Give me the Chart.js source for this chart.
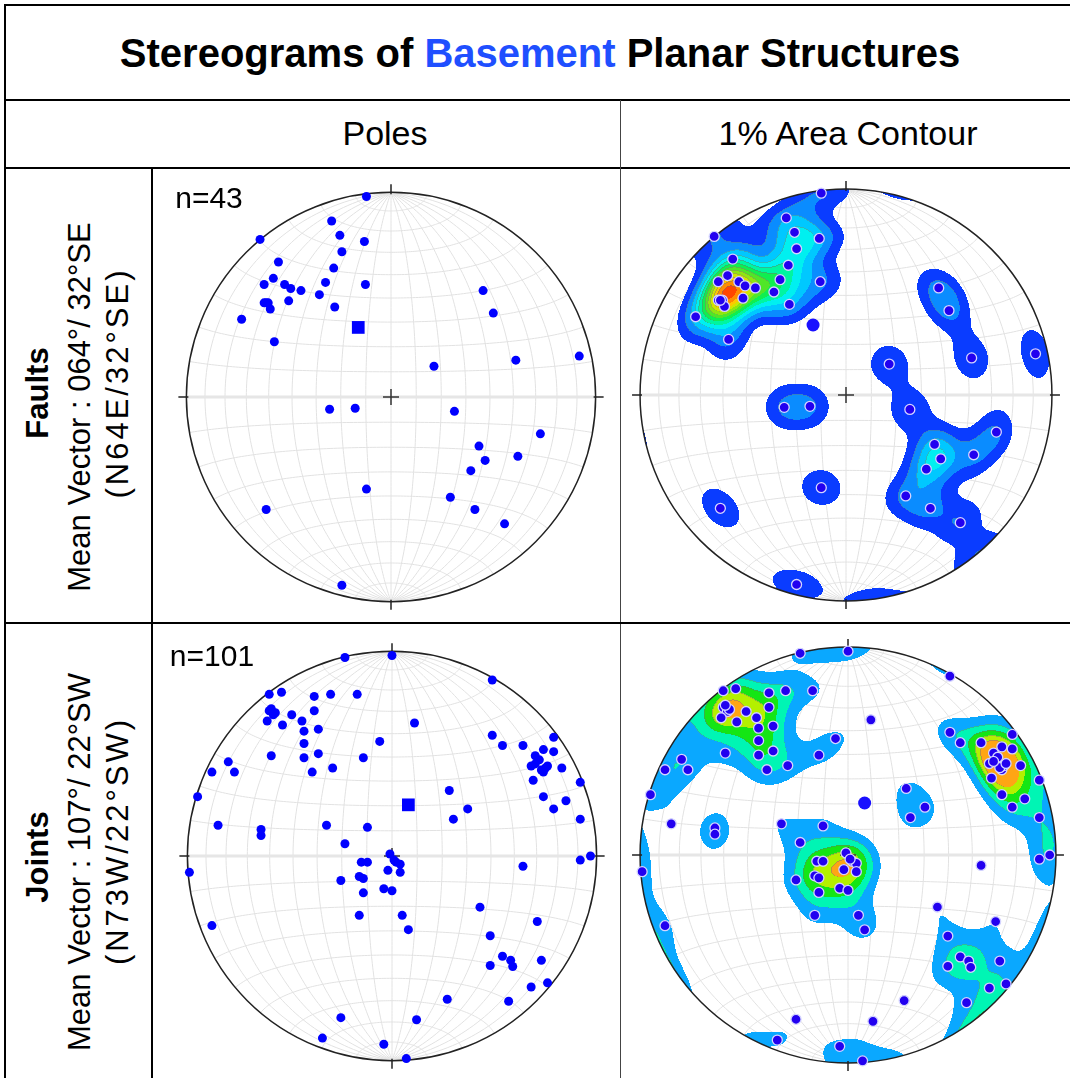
<!DOCTYPE html>
<html>
<head>
<meta charset="utf-8">
<script src="https://cdn.jsdelivr.net/npm/chart.js@4.4.0/dist/chart.umd.min.js"></script>
<style>
  html, body { margin: 0; padding: 0; background: #fff; }
  body { width: 1070px; height: 1078px; overflow: hidden; position: relative; font-family: "Liberation Sans", Arial, sans-serif; color: #000; }
  .line { position: absolute; background: #000; z-index: 3; }
  .c { position: absolute; transform: translate(-50%, -50%); white-space: nowrap; z-index: 4; }
  .v { position: absolute; transform: translate(-50%, -50%) rotate(-90deg); white-space: nowrap; z-index: 4; }
  canvas { position: absolute; z-index: 1; }
</style>
</head>
<body>
<div class="line" style="left:4px;top:4px;width:1066px;height:2px"></div>
<div class="line" style="left:4px;top:4px;width:2px;height:1074px"></div>
<div class="line" style="left:4px;top:99px;width:1066px;height:2px"></div>
<div class="line" style="left:4px;top:167px;width:1066px;height:2px"></div>
<div class="line" style="left:151px;top:167px;width:2px;height:911px"></div>
<div class="line" style="left:620px;top:100px;width:1px;height:978px;background:#444"></div>
<div class="line" style="left:4px;top:622px;width:1066px;height:2px"></div>

<div class="c" style="left:540px;top:53px;font-size:40px;font-weight:bold">Stereograms of <span style="color:#1f4fff">Basement</span> Planar Structures</div>
<div class="c" style="left:385px;top:133px;font-size:34px">Poles</div>
<div class="c" style="left:848px;top:133px;font-size:34px">1% Area Contour</div>

<div class="v" style="left:38px;top:393px;font-size:31px;font-weight:bold">Faults</div>
<div class="v" style="left:80px;top:407px;font-size:31px">Mean Vector : 064°/ 32°SE</div>
<div class="v" style="left:118px;top:383px;font-size:31px;letter-spacing:3px">(N64E/32°SE)</div>
<div class="v" style="left:38px;top:857px;font-size:31px;font-weight:bold">Joints</div>
<div class="v" style="left:80px;top:862px;font-size:31px">Mean Vector : 107°/ 22°SW</div>
<div class="v" style="left:118px;top:841px;font-size:31px;letter-spacing:3px">(N73W/22°SW)</div>

<div class="c" style="left:209px;top:198px;font-size:30px">n=43</div>
<div class="c" style="left:212px;top:656px;font-size:30px">n=101</div>

<canvas id="faultPolesChart"></canvas>
<canvas id="faultContourChart"></canvas>
<canvas id="jointPolesChart"></canvas>
<canvas id="jointContourChart"></canvas>

<script>
// poles as [east, north] on the equal-area net (net radius = 1)
const faultPoles = [
  [-0.12, 0.98], [-0.29, 0.86], [-0.64, 0.77], [-0.25, 0.79], [-0.13, 0.76],
  [-0.24, 0.71], [-0.55, 0.66], [-0.28, 0.63], [-0.575, 0.58], [-0.62, 0.55],
  [-0.52, 0.55], [-0.49, 0.53], [-0.44, 0.52], [-0.32, 0.56], [-0.125, 0.55],
  [-0.35, 0.50], [-0.60, 0.46], [-0.62, 0.46], [-0.59, 0.43], [-0.50, 0.47],
  [-0.275, 0.44], [-0.73, 0.38], [-0.57, 0.27], [0.45, 0.52], [0.50, 0.41],
  [0.61, 0.18], [0.92, 0.20], [0.21, 0.15], [-0.30, -0.06], [-0.175, -0.055],
  [0.31, -0.07], [0.73, -0.18], [0.43, -0.24], [0.46, -0.31], [0.62, -0.29],
  [0.39, -0.36], [-0.12, -0.45], [0.29, -0.49], [-0.61, -0.55], [0.41, -0.55],
  [0.555, -0.62], [-0.24, -0.92], [-0.61, 0.46]
];
const faultMean = [-0.16, 0.34];

const jointPoles = [
  [-0.23, 0.97], [0.00, 0.98], [0.49, 0.86], [-0.60, 0.79], [-0.54, 0.80],
  [-0.38, 0.78], [-0.30, 0.79], [-0.17, 0.79], [-0.60, 0.71], [-0.58, 0.69],
  [-0.49, 0.69], [-0.38, 0.71], [-0.61, 0.66], [-0.44, 0.66], [-0.535, 0.64],
  [-0.43, 0.61], [-0.36, 0.62], [0.11, 0.65], [-0.43, 0.55], [-0.06, 0.56],
  [-0.59, 0.49], [-0.43, 0.48], [-0.36, 0.50], [-0.14, 0.48], [-0.80, 0.46],
  [-0.88, 0.41], [-0.77, 0.41], [-0.39, 0.41], [-0.29, 0.43], [-0.95, 0.29],
  [-0.85, 0.15], [-0.64, 0.13], [-0.64, 0.10], [-0.32, 0.15], [-0.12, 0.14],
  [-0.23, 0.06], [0.49, 0.59], [0.54, 0.54], [0.64, 0.54], [0.79, 0.58],
  [0.70, 0.49], [0.74, 0.52], [0.79, 0.51], [0.68, 0.44], [0.74, 0.41],
  [0.75, 0.43], [0.83, 0.43], [0.69, 0.37], [0.92, 0.36], [0.74, 0.29],
  [0.85, 0.27], [0.79, 0.23], [0.92, 0.18], [0.28, 0.32], [0.37, 0.23],
  [0.30, 0.18], [0.92, -0.02], [0.97, 0.00], [0.64, -0.05], [-0.01, 0.01],
  [0.02, -0.03], [0.04, -0.04], [-0.15, -0.03], [-0.12, -0.03], [-0.02, -0.07],
  [0.04, -0.08], [-0.16, -0.10], [-0.14, -0.11], [-0.25, -0.12], [-0.14, -0.18],
  [-0.04, -0.16], [0.00, -0.17], [-0.16, -0.29], [0.05, -0.29], [0.08, -0.36],
  [-0.99, -0.08], [-0.88, -0.34], [0.43, -0.25], [0.71, -0.32], [0.48, -0.39],
  [0.54, -0.49], [0.58, -0.51], [0.59, -0.54], [0.48, -0.535], [0.73, -0.51],
  [0.76, -0.62], [0.68, -0.64], [0.27, -0.70], [0.57, -0.71], [-0.25, -0.79],
  [0.12, -0.80], [-0.34, -0.89], [-0.04, -0.92], [0.07, -0.99], [0.73, 0.42],
  [0.76, 0.44], [0.72, 0.47], [0.70, 0.45], [-0.57, 0.70], [-0.59, 0.72],
  [0.01, -0.02]
];
const jointMean = [0.08, 0.25];

// contour levels in % of poles per 1% of area, and their fills
const faultLevels = [1, 2, 3, 4, 5, 6, 7, 8, 9, 10, 11, 12, 13];
const faultColors = ['#0a3cff', '#0a8cff', '#00c8ff', '#00f0f0', '#00f5a0', '#10ee50',
                     '#50e628', '#90e610', '#d0e600', '#ffc800', '#ff8c00', '#ff4600',
                     '#ff2000'];
const jointLevels = [1, 2, 3, 4, 5];
const jointColors = ['#0aa8ff', '#00f5b4', '#14e614', '#b4f000', '#ffa514'];

const SQ2 = Math.SQRT2;
const KAPPA = 80; // exponential smoothing kernel for the 1% area count

function project(v) {
  const h = Math.hypot(v[0], v[1]);
  const phi = Math.acos(Math.max(-1, Math.min(1, v[2])));
  const r = SQ2 * Math.sin(phi / 2);
  return h < 1e-9 ? [0, 0] : [r * v[0] / h, r * v[1] / h];
}

function unproject(x, y) {
  const r = Math.hypot(x, y);
  const phi = 2 * Math.asin(Math.min(1, r / SQ2));
  const s = Math.sin(phi);
  return r < 1e-9 ? [0, 0, 1] : [s * x / r, s * y / r, Math.cos(phi)];
}

function hexRgb(h) {
  return [parseInt(h.slice(1, 3), 16), parseInt(h.slice(3, 5), 16), parseInt(h.slice(5, 7), 16)];
}

function drawContours(chart, cfg) {
  const ctx = chart.ctx, xS = chart.scales.x, yS = chart.scales.y;
  const cx = xS.getPixelForValue(0), cy = yS.getPixelForValue(0);
  const rPx = xS.getPixelForValue(1) - cx;
  const x0 = Math.floor(cx - rPx - 1), y0 = Math.floor(cy - rPx - 1);
  const w = Math.ceil(2 * rPx + 3);
  const vecs = cfg.poles.map(p => unproject(p[0], p[1]));
  const scale = KAPPA / vecs.length;
  const lev = new Int8Array(w * w).fill(-1);
  for (let py = 0; py < w; py++) {
    for (let px = 0; px < w; px++) {
      const u = xS.getValueForPixel(x0 + px + 0.5), v = yS.getValueForPixel(y0 + py + 0.5);
      if (u * u + v * v > 1) continue;
      const q = unproject(u, v);
      let s = 0;
      for (let i = 0; i < vecs.length; i++) {
        const p = vecs[i];
        const c = Math.abs(q[0] * p[0] + q[1] * p[1] + q[2] * p[2]);
        if (c > 0.9) s += Math.exp(KAPPA * (c - 1));
      }
      const pct = s * scale;
      let k = 0;
      cfg.levels.forEach(t => { if (pct >= t) k++; });
      lev[py * w + px] = k;
    }
  }
  const rgb = cfg.colors.map(hexRgb);
  const edge = [100, 115, 125];
  const off = document.createElement('canvas');
  off.width = w; off.height = w;
  const octx = off.getContext('2d');
  const img = octx.createImageData(w, w);
  for (let py = 0; py < w; py++) {
    for (let px = 0; px < w; px++) {
      const k = lev[py * w + px];
      if (k <= 0) continue;
      let col = rgb[Math.min(k, rgb.length) - 1];
      const nb = [px > 0 ? lev[py * w + px - 1] : -1, py > 0 ? lev[(py - 1) * w + px] : -1];
      if (k > 1 && nb.some(n => n > 0 && n < k)) {
        col = col.map((c, i) => Math.round(c * 0.55 + edge[i] * 0.45));
      }
      const o = (py * w + px) * 4;
      img.data[o] = col[0]; img.data[o + 1] = col[1]; img.data[o + 2] = col[2]; img.data[o + 3] = 255;
    }
  }
  octx.putImageData(img, 0, 0);
  ctx.drawImage(off, x0, y0);
}

function drawNet(chart) {
  const ctx = chart.ctx, xS = chart.scales.x, yS = chart.scales.y;
  const toPx = p => [xS.getPixelForValue(p[0]), yS.getPixelForValue(p[1])];
  const curve = fn => {
    ctx.beginPath();
    for (let s = 0; s <= 120; s++) {
      const q = toPx(project(fn(s / 120 * Math.PI)));
      if (s === 0) ctx.moveTo(q[0], q[1]); else ctx.lineTo(q[0], q[1]);
    }
    ctx.stroke();
  };
  ctx.save();
  ctx.strokeStyle = '#e2e2e2';
  ctx.lineWidth = 1;
  for (let k = 10; k < 180; k += 10) {
    const a = k * Math.PI / 180;
    curve(s => [Math.sin(s) * Math.cos(a), Math.cos(s), Math.sin(s) * Math.sin(a)]);
    if (k !== 90) curve(t => [Math.sin(a) * Math.cos(t), Math.cos(a), Math.sin(a) * Math.sin(t)]);
  }
  ctx.strokeStyle = '#e6e6e6';
  ctx.lineWidth = 3;
  const w = toPx([-1, 0]), e = toPx([1, 0]);
  ctx.beginPath(); ctx.moveTo(w[0], w[1]); ctx.lineTo(e[0], e[1]); ctx.stroke();
  ctx.restore();
}

function drawFrame(chart) {
  const ctx = chart.ctx, xS = chart.scales.x, yS = chart.scales.y;
  const cx = xS.getPixelForValue(0), cy = yS.getPixelForValue(0);
  const r = xS.getPixelForValue(1) - cx;
  ctx.save();
  ctx.strokeStyle = '#222';
  ctx.lineWidth = 1.5;
  ctx.beginPath(); ctx.arc(cx, cy, r, 0, Math.PI * 2); ctx.stroke();
  ctx.beginPath();
  ctx.moveTo(cx, cy - r + 2); ctx.lineTo(cx, cy - r - 8);
  ctx.moveTo(cx, cy + r - 2); ctx.lineTo(cx, cy + r + 8);
  ctx.moveTo(cx - r + 2, cy); ctx.lineTo(cx - r - 8, cy);
  ctx.moveTo(cx + r - 2, cy); ctx.lineTo(cx + r + 8, cy);
  ctx.stroke();
  ctx.strokeStyle = '#333';
  ctx.beginPath();
  ctx.moveTo(cx - 8, cy); ctx.lineTo(cx + 8, cy);
  ctx.moveTo(cx, cy - 8); ctx.lineTo(cx, cy + 8);
  ctx.stroke();
  ctx.restore();
}

const stereonet = {
  id: 'stereonet',
  beforeDatasetsDraw(chart, args, opts) {
    drawNet(chart);
    if (opts.contour) drawContours(chart, opts.contour);
    drawFrame(chart);
  }
};

function makeNet(id, cx, cy, R, poles, mean, contour) {
  const pad = 16;
  const size = 2 * (R + pad);
  const L = (R + pad) / R;
  const canvas = document.getElementById(id);
  canvas.width = size; canvas.height = size;
  canvas.style.left = (cx - size / 2) + 'px';
  canvas.style.top = (cy - size / 2) + 'px';
  const pts = poles.map(p => ({ x: p[0], y: p[1] }));
  const datasets = contour ? [
    { data: pts, pointRadius: 5, backgroundColor: '#2200f0', borderColor: '#d4d4ff', borderWidth: 1.3 },
    { data: [{ x: mean[0], y: mean[1] }], pointRadius: 6.5, backgroundColor: '#1a10ff', borderWidth: 0 }
  ] : [
    { data: pts, pointRadius: 4.5, backgroundColor: '#0000ff', borderWidth: 0 },
    { data: [{ x: mean[0], y: mean[1] }], pointStyle: 'rect', pointRadius: 9, backgroundColor: '#0000ff', borderWidth: 0 }
  ];
  return new Chart(canvas, {
    type: 'scatter',
    data: { datasets: datasets },
    options: {
      responsive: false,
      animation: false,
      events: [],
      layout: { padding: 0 },
      scales: {
        x: { type: 'linear', min: -L, max: L, display: false },
        y: { type: 'linear', min: -L, max: L, display: false }
      },
      plugins: {
        legend: { display: false },
        tooltip: { enabled: false },
        stereonet: { contour: contour }
      }
    },
    plugins: [stereonet]
  });
}

makeNet('faultPolesChart', 391, 397, 213, faultPoles, faultMean, null);
makeNet('faultContourChart', 846, 395, 212, faultPoles, faultMean,
        { poles: faultPoles, levels: faultLevels, colors: faultColors });
makeNet('jointPolesChart', 392, 856, 213, jointPoles, jointMean, null);
makeNet('jointContourChart', 848, 855, 214, jointPoles, jointMean,
        { poles: jointPoles, levels: jointLevels, colors: jointColors });
</script>
</body>
</html>
